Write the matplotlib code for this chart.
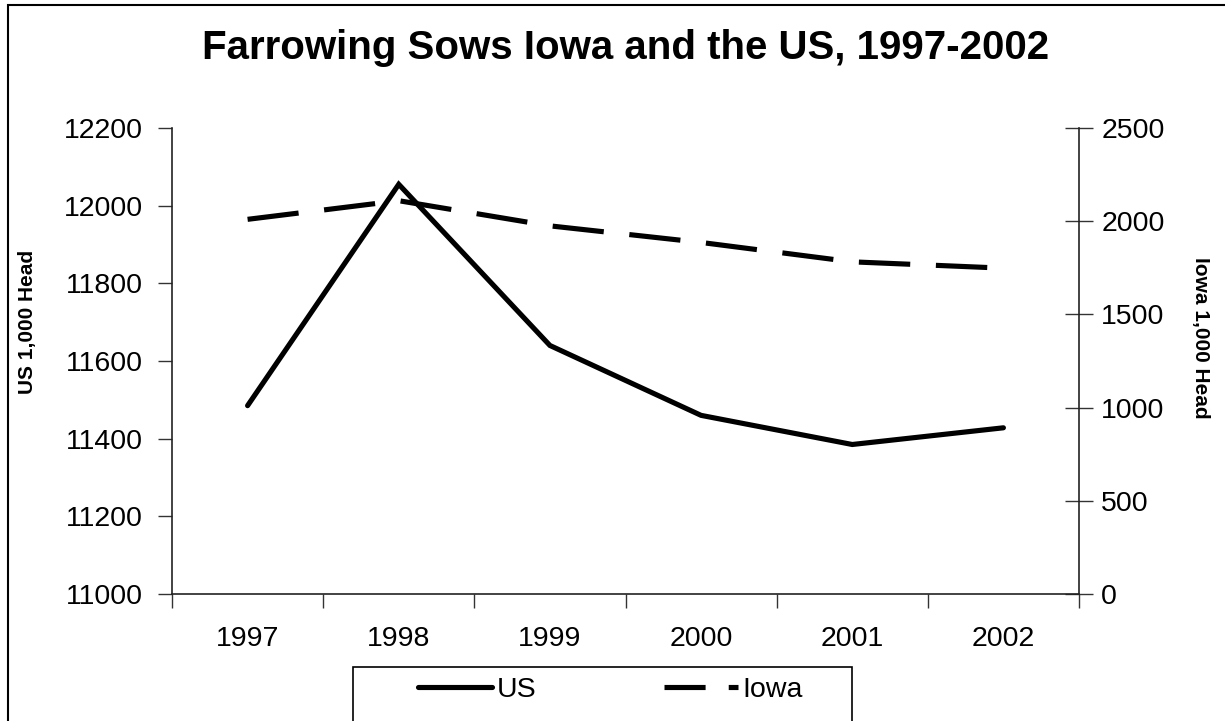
import numpy as np
import matplotlib
matplotlib.use('Agg')
import matplotlib.pyplot as plt
from matplotlib.lines import Line2D
from matplotlib.patches import Rectangle

plt.rcParams['font.family'] = ['Liberation Sans', 'DejaVu Sans']

# ===== data (1,000 head) =====
years = ['1997', '1998', '1999', '2000', '2001', '2002']
us_sows = [11485, 12055, 11640, 11460, 11385, 11428]
iowa_sows = [2010, 2110, 1975, 1886, 1782, 1748]

W, H = 1225, 721
fig = plt.figure(figsize=(W / 100, H / 100), dpi=100)

# outer chart border
fig.patches.append(Rectangle((8 / W, -0.1), 1.2, 1 - 5 / H + 0.1, transform=fig.transFigure,
                             fill=False, edgecolor='black', linewidth=1.5, clip_on=False))

ax = fig.add_axes([172 / W, 1 - 594 / H, (1079 - 172) / W, (594 - 128) / H])
ax2 = ax.twinx()

x = np.arange(len(years)) + 0.5
lw = 3.7
l_us, = ax.plot(x, us_sows, color='black', lw=lw, solid_capstyle='round',
                solid_joinstyle='miter', label='US')
l_ia, = ax2.plot(x, iowa_sows, color='black', lw=lw, dash_capstyle='butt',
                 label='Iowa')
l_ia.set_dashes((10, 5))

ax.set_xlim(0, len(years))
ax.set_ylim(11000, 12200)
ax.set_yticks(np.arange(11000, 12201, 200))
ax2.set_ylim(0, 2500)
ax2.set_yticks(np.arange(0, 2501, 500))

# category ticks sit between the years, labels centred on each year
ax.set_xticks(np.arange(0, len(years) + 1))
ax.set_xticklabels([])
ax.set_xticks(x, minor=True)
ax.set_xticklabels(years, minor=True)
ax.tick_params(axis='x', which='major', direction='out', length=10, width=1, color='#333333')
ax.tick_params(axis='x', which='minor', length=0, labelsize=20.5, pad=23)
ax.tick_params(axis='y', direction='out', length=10, width=1, labelsize=20.5, pad=11, color='#333333')
ax2.tick_params(axis='y', direction='inout', length=20, width=1, labelsize=20.5, pad=6, color='#333333')

for a in (ax, ax2):
    a.spines['top'].set_visible(False)
    for s in a.spines.values():
        s.set_linewidth(1.2)
        s.set_color('#222222')
ax.spines['right'].set_visible(False)
ax2.spines['left'].set_visible(False)
ax2.spines['bottom'].set_visible(False)
ax.set_zorder(ax2.get_zorder() + 1)
ax.patch.set_visible(False)

fig.text(28 / W, 1 - 322 / H, 'US 1,000 Head', rotation=90, fontsize=15,
         fontweight='bold', ha='center', va='center')
fig.text(1200 / W, 1 - 338 / H, 'Iowa 1,000 Head', rotation=270, fontsize=15,
         fontweight='bold', ha='center', va='center')
fig.text(626 / W, 1 - 48 / H, 'Farrowing Sows Iowa and the US, 1997-2002',
         fontsize=29, fontweight='bold', ha='center', va='center')

# legend box runs off the bottom edge
fig.patches.append(Rectangle((353 / W, -0.1), (852 - 353) / W, 0.1 + 1 - 667 / H,
                             transform=fig.transFigure, fill=False,
                             edgecolor='black', linewidth=1.2, clip_on=False))
h_us = Line2D([], [], color='black', lw=lw, solid_capstyle='round')
h_ia = Line2D([], [], color='black', lw=lw, dash_capstyle='butt')
h_ia.set_dashes((8, 4.5))
fig.legend([h_us, h_ia], ['US', 'Iowa'], loc='center left',
           bbox_to_anchor=(418 / W, 1 - 690 / H), ncol=2, frameon=False,
           fontsize=20.5, handlelength=2.6, handletextpad=0.15, columnspacing=4.5,
           borderpad=0, borderaxespad=0)

plt.savefig('out.png', dpi=100)
